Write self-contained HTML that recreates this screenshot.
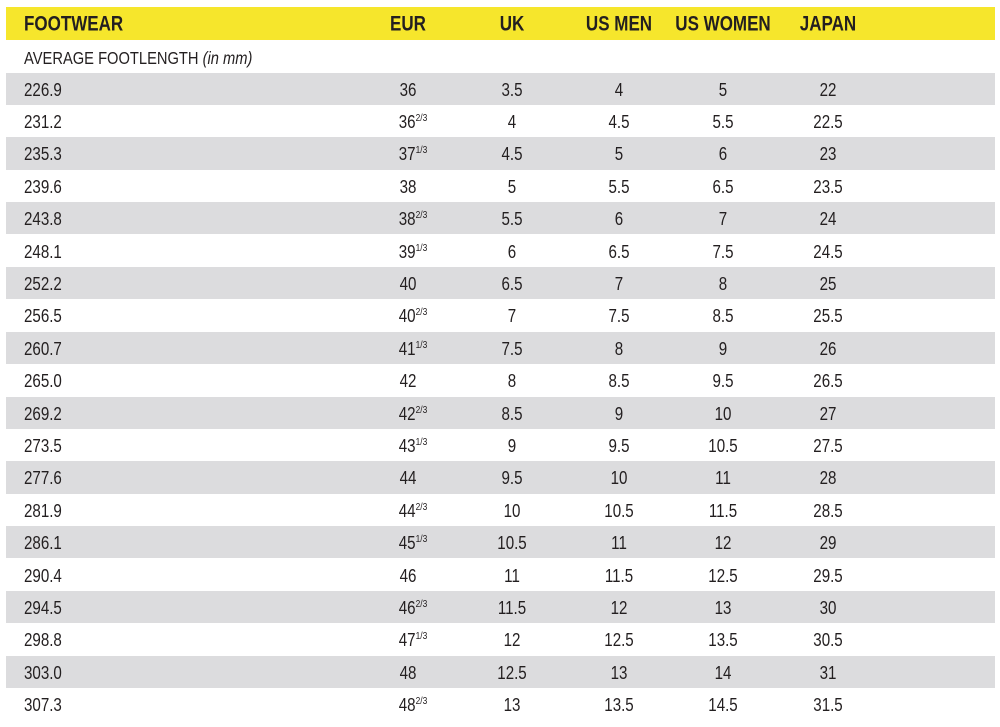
<!DOCTYPE html>
<html><head><meta charset="utf-8"><style>
body{margin:0;width:1000px;height:727px;background:#fff;position:relative;overflow:hidden;font-family:"Liberation Sans",sans-serif;color:#231f20}
.r{position:absolute;left:6px;width:989px;height:32.4px}
.g{background:#dcdcde}
.t{position:absolute;top:50%;transform:translate(-50%,-42%) scaleX(0.84);font-size:18px;white-space:nowrap}
.l{position:absolute;left:18px;top:50%;transform:translateY(-42%) scaleX(0.84);transform-origin:0 50%;font-size:18px;white-space:nowrap}
sup{font-size:10px;vertical-align:7px;line-height:0}
.h{background:#f6e62c;top:7px;height:33px}
.h .t,.h .l{font-weight:bold;font-size:21px}
.h .t{transform:translate(-50%,-48%) scaleX(0.81)}
.h .l{transform:translateY(-48%) scaleX(0.81)}
</style></head><body>
<div class="r h"><span class="l">FOOTWEAR</span><span class="t" style="left:402px">EUR</span><span class="t" style="left:506px">UK</span><span class="t" style="left:613px">US MEN</span><span class="t" style="left:717px">US WOMEN</span><span class="t" style="left:822px">JAPAN</span></div>
<div class="r" style="top:41px"><span class="l" style="font-size:17.5px">AVERAGE FOOTLENGTH <i>(in mm)</i></span></div>
<div id="rows"></div>
<script>
var d=[["226.9","36","3.5","4","5","22"],["231.2","36<sup>2/3</sup>","4","4.5","5.5","22.5"],["235.3","37<sup>1/3</sup>","4.5","5","6","23"],["239.6","38","5","5.5","6.5","23.5"],["243.8","38<sup>2/3</sup>","5.5","6","7","24"],["248.1","39<sup>1/3</sup>","6","6.5","7.5","24.5"],["252.2","40","6.5","7","8","25"],["256.5","40<sup>2/3</sup>","7","7.5","8.5","25.5"],["260.7","41<sup>1/3</sup>","7.5","8","9","26"],["265.0","42","8","8.5","9.5","26.5"],["269.2","42<sup>2/3</sup>","8.5","9","10","27"],["273.5","43<sup>1/3</sup>","9","9.5","10.5","27.5"],["277.6","44","9.5","10","11","28"],["281.9","44<sup>2/3</sup>","10","10.5","11.5","28.5"],["286.1","45<sup>1/3</sup>","10.5","11","12","29"],["290.4","46","11","11.5","12.5","29.5"],["294.5","46<sup>2/3</sup>","11.5","12","13","30"],["298.8","47<sup>1/3</sup>","12","12.5","13.5","30.5"],["303.0","48","12.5","13","14","31"],["307.3","48<sup>2/3</sup>","13","13.5","14.5","31.5"]];
var x=[402,506,613,717,822],h="";
d.forEach(function(r,i){h+='<div class="r'+(i%2==0?' g':'')+'" style="top:'+(72.5+i*32.4)+'px"><span class="l">'+r[0]+'</span>';for(var j=1;j<6;j++){var s=r[j].indexOf('sup')>0?' style="left:'+(x[j-1]+5)+'px"':' style="left:'+x[j-1]+'px"';h+='<span class="t"'+s+'>'+r[j]+'</span>';}h+='</div>';});
document.getElementById('rows').innerHTML=h;
</script>
</body></html>
